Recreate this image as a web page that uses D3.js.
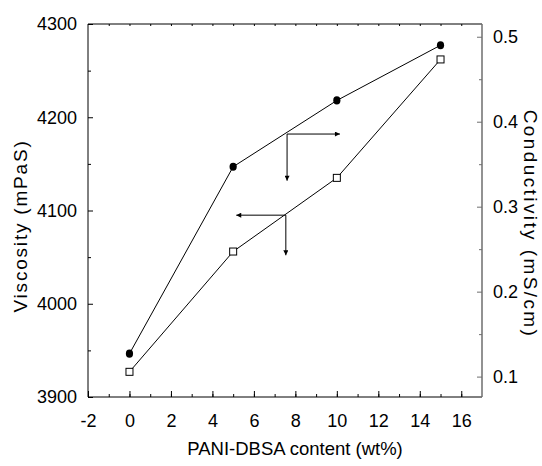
<!DOCTYPE html>
<html>
<head>
<meta charset="utf-8">
<script src="https://cdn.jsdelivr.net/npm/d3@7"></script>
<style>
  html, body { margin: 0; padding: 0; background: #fff; }
  svg { display: block; }
  text { font-family: "Liberation Sans", Arial, sans-serif; fill: #000; }
</style>
</head>
<body>
<svg id="chart" width="542" height="466"></svg>
<script>
// ---- data ----
const contents = [0, 5, 10, 15];                   // PANI-DBSA content (wt%)
const viscosity = [3927, 4056, 4135, 4262];        // mPaS (open squares, left axis)
const conductivity = [0.127, 0.347, 0.425, 0.490]; // mS/cm (filled circles, right axis)
const xTicks = [-2, 0, 2, 4, 6, 8, 10, 12, 14, 16];
const yLeftTicks = [3900, 4000, 4100, 4200, 4300];
const yRightTicks = [0.1, 0.2, 0.3, 0.4, 0.5];
// arrow annotations in data units (x, viscosity-axis y)
const arrowConductivity = { x: 7.6, y: 4182, xEnd: 10.15, yEnd: 4132 }; // points right & down
const arrowViscosity = { x: 7.54, y: 4095, xEnd: 5.15, yEnd: 4052 };    // points left & down

const svg = d3.select("#chart");
const L = 88, R = 482, T = 24, B = 397;

const x = d3.scaleLinear().domain([-2, 17]).range([L, R]);
const yL = d3.scaleLinear().domain([3900, 4300]).range([B, T]);
const yR = d3.scaleLinear().domain([0.076, 0.515]).range([B, T]);

const tickFont = "18px";

// arrowhead marker
const defs = svg.append("defs");
defs.append("marker").attr("id", "ah").attr("viewBox", "0 0 10 10")
  .attr("refX", 10).attr("refY", 5).attr("markerWidth", 7).attr("markerHeight", 5)
  .attr("markerUnits", "userSpaceOnUse").attr("orient", "auto")
  .append("path").attr("d", "M0,0 L10,5 L0,10 z").attr("fill", "#000");

// bottom axis
const gB = svg.append("g").attr("transform", `translate(0,${B})`);
gB.call(d3.axisBottom(x).tickValues(d3.range(-2, 17, 1)).tickSize(-3).tickFormat(""))
  .call(g => g.select(".domain").remove());
gB.append("g").call(d3.axisBottom(x).tickValues(xTicks).tickSize(-6).tickPadding(17).tickFormat(d => String(d)))
  .call(g => g.select(".domain").remove())
  .call(g => g.selectAll("text").style("font-size", tickFont));
gB.selectAll("line").attr("stroke", "#000");

// top axis
const gT = svg.append("g").attr("transform", `translate(0,${T})`);
gT.call(d3.axisTop(x).tickValues(d3.range(-1, 17, 1)).tickSize(-2).tickFormat(""))
  .call(g => g.select(".domain").remove());

// left axis
const gL = svg.append("g").attr("transform", `translate(${L},0)`);
gL.call(d3.axisLeft(yL).tickValues(d3.range(3950, 4300, 100)).tickSize(-3).tickFormat(""))
  .call(g => g.select(".domain").remove());
gL.append("g").call(d3.axisLeft(yL).tickValues(yLeftTicks).tickSize(-5).tickPadding(11).tickFormat(d3.format("d")))
  .call(g => g.select(".domain").remove())
  .call(g => g.selectAll("text").style("font-size", tickFont));

// right axis (grey)
const grey = "#6e6e6e";
const gR = svg.append("g").attr("transform", `translate(${R},0)`);
gR.call(d3.axisRight(yR).tickValues([0.15, 0.25, 0.35, 0.45]).tickSize(-3).tickFormat(""))
  .call(g => g.select(".domain").remove());
gR.append("g").call(d3.axisRight(yR).tickValues(yRightTicks).tickSize(-5).tickPadding(11).tickFormat(d3.format(".1f")))
  .call(g => g.select(".domain").remove())
  .call(g => g.selectAll("text").style("font-size", tickFont));
gR.selectAll("line").attr("stroke", grey);

// frame
svg.append("line").attr("x1", L).attr("x2", R).attr("y1", T).attr("y2", T).attr("stroke", "#000");
svg.append("line").attr("x1", L).attr("x2", R).attr("y1", B).attr("y2", B).attr("stroke", "#000");
svg.append("line").attr("x1", L).attr("x2", L).attr("y1", T).attr("y2", B).attr("stroke", "#000");
svg.append("line").attr("x1", R).attr("x2", R).attr("y1", T).attr("y2", B).attr("stroke", grey).attr("stroke-width", 1.5);

// series lines
const cData = contents.map((c, i) => [c, conductivity[i]]);
const vData = contents.map((c, i) => [c, viscosity[i]]);
svg.append("path").datum(cData).attr("fill", "none").attr("stroke", "#000").attr("stroke-width", 1)
  .attr("d", d3.line().x(d => x(d[0])).y(d => yR(d[1])));
svg.append("path").datum(vData).attr("fill", "none").attr("stroke", "#000").attr("stroke-width", 1)
  .attr("d", d3.line().x(d => x(d[0])).y(d => yL(d[1])));

// markers
svg.selectAll(".circ").data(cData).join("ellipse")
  .attr("cx", d => x(d[0])).attr("cy", d => yR(d[1])).attr("rx", 3.6).attr("ry", 4.1).attr("fill", "#000");
svg.selectAll(".sq").data(vData).join("rect")
  .attr("x", d => x(d[0]) - 3.5).attr("y", d => yL(d[1]) - 3.5).attr("width", 7).attr("height", 7)
  .attr("fill", "#fff").attr("stroke", "#000").attr("stroke-width", 1);

// arrows
function arrow(a) {
  svg.append("line").attr("x1", x(a.x)).attr("y1", yL(a.y)).attr("x2", x(a.xEnd)).attr("y2", yL(a.y))
    .attr("stroke", "#000").attr("stroke-width", 1).attr("marker-end", "url(#ah)");
  svg.append("line").attr("x1", x(a.x)).attr("y1", yL(a.y)).attr("x2", x(a.x)).attr("y2", yL(a.yEnd))
    .attr("stroke", "#000").attr("stroke-width", 1).attr("marker-end", "url(#ah)");
}
arrow(arrowConductivity);
arrow(arrowViscosity);

// axis titles
svg.append("text").attr("x", 295).attr("y", 455).attr("text-anchor", "middle")
  .style("font-size", "18.5px").text("PANI-DBSA content (wt%)");
svg.append("text").attr("transform", "translate(27,226) rotate(-90)").attr("text-anchor", "middle")
  .style("font-size", "19px").style("letter-spacing", "1.8px").text("Viscosity (mPaS)");
svg.append("text").attr("transform", "translate(524,224) rotate(90)").attr("text-anchor", "middle")
  .style("font-size", "19px").style("letter-spacing", "2.4px").text("Conductivity (mS/cm)");
</script>
</body>
</html>
